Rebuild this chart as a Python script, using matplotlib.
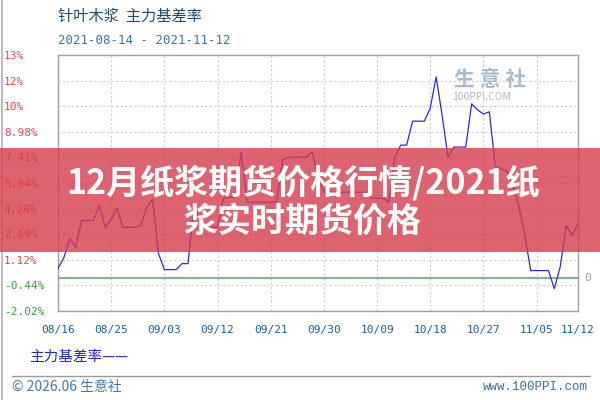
import numpy as np
import pandas as pd
import matplotlib
matplotlib.use('Agg')
import matplotlib.pyplot as plt
import matplotlib.dates as mdates
from matplotlib.patches import Rectangle
from matplotlib.lines import Line2D

plt.rcParams['font.family'] = ['Noto Sans CJK SC', 'DejaVu Sans']

# ── 資料 ──────────────────────────────────────────────
dates = pd.date_range('2021-08-16', '2021-11-12', freq='D')
basis_rate = [
    0.59, 1.26, 2.43, 1.88, 3.54, 3.54, 3.54,
    4.47, 3.11, 3.62, 4.28, 3.11, 3.11, 3.11,
    3.23, 4.34, 4.84, 1.51, 0.52, 0.52, 0.52,
    0.89, 0.89, 4.40, 3.60, 3.11, 3.11, 3.11,
    4.90, 4.96, 4.96, 7.73, 4.65, 4.65, 4.65,
    4.65, 4.65, 4.65, 7.24, 7.42, 7.42, 7.42,
    7.42, 7.73, 6.31, 5.27, 5.27, 5.27, 5.27,
    5.27, 5.27, 5.27, 5.27, 4.90, 4.90, 4.90,
    4.65, 7.42, 8.16, 8.16, 9.63, 9.63, 9.63,
    10.44, 12.35, 10.00, 7.42, 8.04, 8.04, 8.04,
    10.69, 10.32, 10.07, 10.20, 6.87, 6.70, 6.55,
    5.70, 4.40, 2.62, 0.46, 0.46, 0.46, 0.46,
    -0.65, 0.71, 3.23, 2.62, 3.36,
]
y_ticks = [-2.02, -0.44, 1.12, 2.69, 4.26, 5.84, 7.41, 8.98, 10.55, 12.12, 13.69]
y_labels = ['-2.02%', '-0.44%', '1.12%', '2.69%', '4.26%', '5.84%', '7.41%',
            '8.98%', '10%', '12%', '13%']
x_ticks = ['2021-08-16', '2021-08-25', '2021-09-03', '2021-09-12', '2021-09-21',
           '2021-09-30', '2021-10-09', '2021-10-18', '2021-10-27', '2021-11-05',
           '2021-11-12']

MONO = ['DejaVu Sans Mono', 'Noto Sans CJK SC']

# ── 畫布 ──────────────────────────────────────────────
fig = plt.figure(figsize=(6, 4), dpi=100)
ax = fig.add_axes([58/600, 1-311/400, 520/600, 256/400])

ax.plot(dates, basis_rate, color='#2b2bd6', linewidth=0.9, zorder=3)
ax.axhline(0, color='#86b592', linewidth=1.6, zorder=2)

ax.set_xlim(pd.Timestamp('2021-08-16'), pd.Timestamp('2021-11-12'))
ax.set_ylim(y_ticks[0], y_ticks[-1])

ax.set_yticks(y_ticks)
ax.set_yticklabels(y_labels, family=MONO, fontsize=8)
for lab, v in zip(ax.get_yticklabels(), y_ticks):
    lab.set_horizontalalignment('left')
    lab.set_color('#e8474a' if v > 0 else '#3f9a3f')
ax.tick_params(axis='y', length=0, pad=39)

xt = pd.to_datetime(x_ticks)
ax.set_xticks(xt)
ax.xaxis.set_major_formatter(mdates.DateFormatter('%m/%d'))
ax.tick_params(axis='x', length=0, pad=10, labelsize=8, labelcolor='#1f5f8f')
for lab in ax.get_xticklabels():
    lab.set_family(MONO)

ax.grid(True, color='#cfcfcf', linestyle=(0, (2, 2)), linewidth=0.8)
for s in ax.spines.values():
    s.set_color('#a0a0a0')
    s.set_linewidth(1)

# 右側零值標記
ax.text(1.012, 0, '0', transform=ax.get_yaxis_transform(), ha='left', va='center',
        fontsize=8, color='#999999', family=MONO)

# 浮水印
ax.text(0.762, 0.905, '生 意 社', transform=ax.transAxes, fontsize=15,
        color='#a9bccd', fontweight='bold', va='center')
ax.text(0.758, 0.835, '100PPI.COM', transform=ax.transAxes, fontsize=7.5,
        color='#b8b8b8', va='center')

# ── 標題與頁尾 ────────────────────────────────────────
fig.text(58/600, 1-16/400, '针叶木浆  主力基差率', fontsize=11, color='#1e4a6e',
         va='center')
fig.text(58/600, 1-40/400, '2021-08-14 - 2021-11-12', fontsize=9, color='#3a74a6',
         va='center', family=MONO)
fig.text(29/600, 1-357/400, '主力基差率——', fontsize=10.5, color='#2525c8', va='center')
fig.add_artist(Line2D([12/600, 590/600], [1-376/400, 1-376/400], color='#9a9a9a',
                      linewidth=1))
fig.add_artist(Line2D([2/600, 2/600], [0, 1], color='#b0b0b0', linewidth=1.2))
fig.text(12/600, 1-387/400, '© 2026.06 生意社', fontsize=10, color='#4a7aa0',
         va='center')
fig.text(588/600, 1-387/400, 'www.100PPI.com', fontsize=9, color='#3a6f9a',
         va='center', ha='right', family=['Liberation Mono'])

# ── 紅色橫幅 ──────────────────────────────────────────
fig.add_artist(Rectangle((0, 1-252/400), 1, 104/400, transform=fig.transFigure,
                         facecolor='#d53c4c', alpha=0.8, edgecolor='none', zorder=5))
fig.text(0.505, 1-183/400, '12月纸浆期货价格行情/2021纸', fontsize=24.5, color='white',
         fontweight='heavy', ha='center', va='center', zorder=6)
fig.text(0.503, 1-221/400, '浆实时期货价格', fontsize=24.5, color='white',
         fontweight='heavy', ha='center', va='center', zorder=6)

fig.savefig('out.png', dpi=100)
